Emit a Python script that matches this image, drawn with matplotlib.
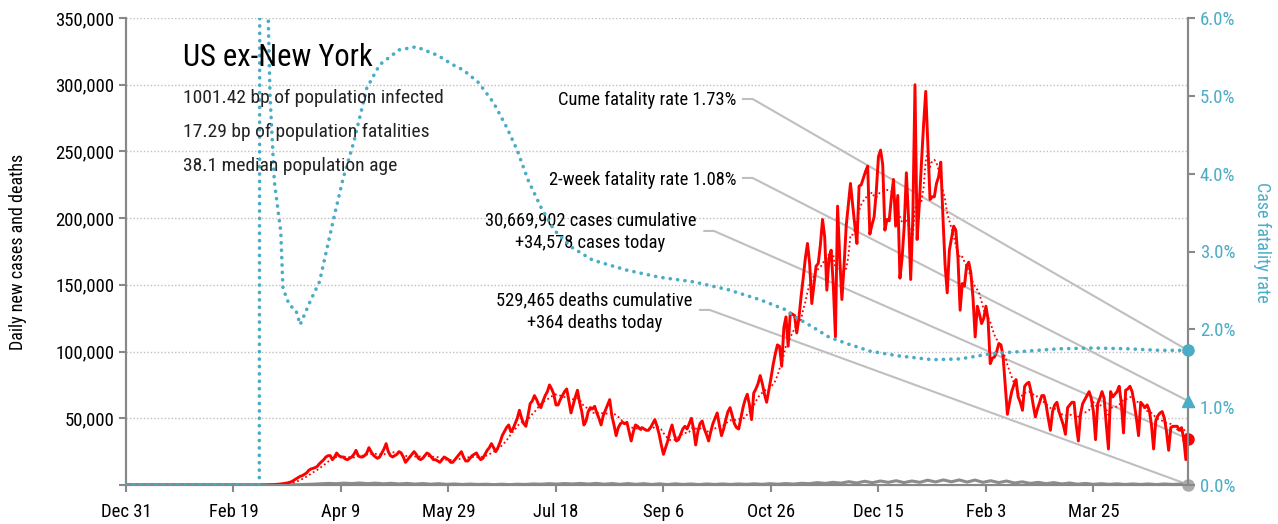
import numpy as np
import pandas as pd
import matplotlib
matplotlib.use('Agg')
import matplotlib.pyplot as plt
from matplotlib import font_manager

# narrow font if one is installed
names = {f.name for f in font_manager.fontManager.ttflist}
family = 'DejaVu Sans'
for cand in ['Liberation Sans Narrow', 'Roboto Condensed', 'Open Sans Condensed', 'Arial Narrow', 'Liberation Sans']:
    if cand in names:
        family = cand
        break
plt.rcParams['font.family'] = family

# ---- data (day 0 = Dec 31 2019) ----
tick_days = [0, 50, 100, 150, 200, 250, 300, 350, 400, 450]
tick_labels = ['Dec 31', 'Feb 19', 'Apr 9', 'May 29', 'Jul 18', 'Sep 6', 'Oct 26', 'Dec 15', 'Feb 3', 'Mar 25']

# daily new cases, thousands, from day 61 (Mar 1 2020), one row per week
cases_k = [
    0, 0, 0.1, 0.1, 0.1, 0.2, 0.2,
    0.3, 0.3, 0.5, 0.6, 0.8, 1.0, 1.3,
    1.5, 2.0, 2.5, 3.5, 4.5, 5.5, 6.5,
    7, 8, 9, 11, 12, 12.5, 13,
    14, 16, 17.5, 19, 21, 22, 22,
    19, 21, 24, 22, 21, 21, 19.5,
    19, 20, 21, 23, 26, 22, 21,
    21, 22, 24, 28, 25, 22.5, 21,
    20, 21, 24, 27, 31, 25, 22,
    21, 22, 23, 25, 24, 21, 17,
    19, 21, 23, 25, 23, 20, 19,
    20, 22, 24, 23, 21, 19, 19,
    18, 17, 19, 21, 20, 19, 17,
    17, 19, 21, 23, 25, 21, 18,
    18, 20, 22, 23, 24, 21, 19,
    20, 23, 26, 28, 31, 28, 25,
    28, 32, 37, 40, 43, 45, 40,
    42, 46, 50, 56, 50, 46, 44,
    52, 61, 63, 67, 64, 60, 58,
    63, 67, 70, 75, 72, 68, 60,
    60, 64, 67, 70, 72, 63, 54,
    60, 66, 71, 62, 55, 45, 48,
    55, 58, 57, 59, 54, 50, 45,
    52, 56, 60, 64, 52, 45, 37,
    43, 46, 47, 46, 47, 40, 33,
    40, 45, 44, 42, 43, 42, 41,
    41, 43, 46, 49, 44, 38, 30,
    23, 28, 33, 40, 45, 38, 33,
    34, 38, 42, 44, 42, 46, 50,
    42, 30, 40, 46, 48, 42, 38,
    33, 40, 46, 50, 54, 45, 37,
    42, 49, 55, 58, 52, 46, 43,
    42, 50, 58, 64, 68, 60, 49,
    69, 72, 76, 82, 76, 68, 62,
    71, 80, 90, 98, 105, 104, 89,
    118, 126, 104, 129, 128, 127, 114,
    125, 141, 155, 170, 181, 166, 136,
    150, 164, 166, 180, 199, 186, 146,
    170, 176, 150, 111, 209, 170, 139,
    164, 194, 210, 226, 210, 195, 181,
    224, 225, 230, 235, 239, 188, 195,
    201, 220, 246, 251, 240, 191, 199,
    198, 215, 229, 194, 217, 155, 170,
    194, 234, 200, 154, 200, 300, 184,
    210, 241, 270, 295, 254, 214, 216,
    216, 226, 231, 242, 201, 165, 144,
    176, 185, 194, 191, 170, 131, 151,
    149, 164, 167, 159, 140, 111, 134,
    128, 121, 125, 134, 124, 91, 95,
    96, 100, 106, 105, 96, 75, 53,
    62, 70, 75, 79, 66, 62, 56,
    74, 76, 77, 70, 60, 51, 57,
    62, 67, 67, 60, 50, 41, 55,
    60, 62, 55, 50, 45, 38, 58,
    60, 62, 62, 45, 33, 53, 61,
    64, 67, 70, 65, 55, 34, 61,
    65, 70, 65, 45, 27, 70, 66,
    68, 70, 74, 61, 39, 71, 72,
    74, 70, 61, 50, 37, 62, 60,
    58, 60, 56, 45, 27, 48, 52,
    54, 55, 50, 40, 26, 43, 44,
    44, 44, 41, 43, 35, 19, 34.578,
]

# daily deaths, thousands, every half week from day 61
deaths_k = [
    0, 0, 0, 0.05, 0.1, 0.2, 0.4, 0.6,
    0.9, 1.2, 1.0, 1.4, 1.1, 1.5, 1.0, 1.4,
    0.9, 1.3, 0.8, 1.2, 0.7, 1.1, 0.6, 1.0, 0.5,
    0.8, 0.4, 0.7, 0.4, 0.6, 0.3, 0.6, 0.3,
    0.6, 0.4, 0.8, 0.6, 1.0, 0.7, 1.1, 0.8, 1.2,
    0.7, 1.2, 0.6, 1.1, 0.5, 1.1, 0.5, 1.0,
    0.4, 0.9, 0.3, 0.9, 0.4, 0.8, 0.3, 0.8,
    0.4, 0.8, 0.4, 0.8, 0.5, 0.9, 0.5, 1.0, 0.6,
    1.1, 0.7, 1.3, 1.0, 1.8, 1.2, 2.0, 1.4,
    2.5, 1.5, 2.8, 1.7, 3.0, 2.0, 3.2, 1.8, 3.0,
    2.0, 3.6, 2.3, 3.8, 2.4, 3.8, 2.2, 3.7,
    2.0, 3.2, 1.8, 3.0, 1.5, 2.4, 1.2, 2.0,
    1.0, 1.8, 0.8, 1.5, 0.6, 1.2, 0.5, 1.0, 0.5,
    0.9, 0.4, 0.8, 0.4, 0.8, 0.3, 0.8, 0.4,
    0.7, 0.364,
]

# cumulative case fatality rate, %
cfr_days = [0, 62, 63, 64, 65, 66, 67, 69, 72, 73, 76, 79, 81, 86, 90, 97, 101, 106, 112,
            118, 127, 135, 145, 152, 157, 164, 171, 177, 182, 187, 193, 199, 207, 217, 233,
            248, 264, 280, 295, 307, 310, 320, 327, 335, 346, 359, 375, 388, 403, 419, 434,
            450, 466, 481, 494]
cfr_pct = [0, 0, 30, 15, 9, 6.2, 5.0, 3.9, 3.25, 2.53, 2.31, 2.25, 2.06, 2.38, 2.61, 3.47, 3.94,
           4.41, 5.10, 5.40, 5.59, 5.63, 5.52, 5.40, 5.33, 5.17, 4.91, 4.60, 4.30, 3.92, 3.57,
           3.28, 3.06, 2.89, 2.76, 2.67, 2.61, 2.51, 2.38, 2.25, 2.18, 2.02, 1.90, 1.82, 1.72,
           1.66, 1.61, 1.62, 1.69, 1.72, 1.75, 1.76, 1.75, 1.73, 1.73]

cume_cfr = 1.73
two_week_cfr = 1.08
cases_today = 34578
deaths_today = 364

title = 'US ex-New York'
stats = ['1001.42 bp of population infected',
         '17.29 bp of population fatalities',
         '38.1 median population age']

# ---- series ----
cases = pd.Series([0.0] * 61 + cases_k) * 1000
days = np.arange(len(cases))
avg7 = cases.rolling(7, min_periods=1).mean()
death_x = np.concatenate([[0], np.linspace(61, 494, len(deaths_k))])
death_y = np.concatenate([[0], deaths_k]) * 1000
end_day = days[-1]

RED = '#ff0000'
TEAL = '#4bacc6'
GRAY = '#8c8c8c'
LINE = '#bfbfbf'

fig = plt.figure(figsize=(12.78, 5.24), dpi=100)
ax = fig.add_axes([126 / 1278, 1 - 485 / 524, (1188 - 126) / 1278, (485 - 18) / 524])
ax2 = ax.twinx()

ax.set_xlim(0, end_day)
ax.set_ylim(0, 350000)
ax2.set_ylim(0, 6)

for v in range(50000, 350001, 50000):
    ax.axhline(v, color='#c0c0c0', lw=1, ls=(0, (1, 1.5)), zorder=0)

ax.plot(death_x, death_y, color=GRAY, lw=2.2, zorder=3)
ax.plot(days, cases, color=RED, lw=2.1, zorder=4)
ax.plot(days, avg7, color=RED, lw=1.3, ls=(0, (1, 1.5)), zorder=4)
ax2.plot(cfr_days, cfr_pct, color=TEAL, lw=2.6, ls=(0, (0.05, 2.0)),
         dash_capstyle='round', zorder=5)

# end markers
ax.plot(end_day, cases_today, 'o', color=RED, ms=8, clip_on=False, zorder=6)
ax.plot(end_day, deaths_today, 'o', color='#aaaaaa', ms=8, clip_on=False, zorder=6)
ax2.plot(end_day, cume_cfr, 'o', color=TEAL, ms=8, clip_on=False, zorder=6)
ax2.plot(end_day, two_week_cfr, '^', color=TEAL, ms=9, clip_on=False, zorder=6)

# axes styling
ax.spines['top'].set_visible(False)
ax2.spines['top'].set_visible(False)
for a in (ax, ax2):
    for sp in ['left', 'right', 'bottom']:
        a.spines[sp].set_color('#888888')
        a.spines[sp].set_linewidth(1.5)

ax.set_xticks(tick_days)
ax.set_xticklabels(tick_labels)
ax.set_yticks(range(0, 350001, 50000))
ax.set_yticklabels([''] + [f'{v:,}' for v in range(50000, 350001, 50000)])
ax.tick_params(axis='both', colors='#888888', labelcolor='black', labelsize=13.5, length=5, width=1.5)
ax.tick_params(axis='x', pad=8)
ax2.set_yticks(range(0, 7))
ax2.set_yticklabels([f'{v:.1f}%' for v in range(0, 7)])
ax2.tick_params(axis='y', colors='#888888', labelcolor=TEAL, labelsize=13.5, length=5, width=1.5)

ax.set_ylabel('Daily new cases and deaths', fontsize=13)
ax.yaxis.set_label_coords((27 - 126) / 1062, 0.5)
ax2.set_ylabel('Case fatality rate', fontsize=13, color=TEAL, rotation=270, va='center')
ax2.yaxis.set_label_coords((1262 - 126) / 1062, 0.52)

# title block
fig.text(183 / 1278, 1 - 57 / 524, title, fontsize=22, va='center', ha='left')
for i, s in enumerate(stats):
    fig.text(183 / 1278, 1 - (98 + 34 * i) / 524, s, fontsize=14, va='center', ha='left', color='#222222')

# annotations with leader lines
def to_left(day, pct):
    return ax.transData.inverted().transform(ax2.transData.transform((day, pct)))[1]

notes = [
    ('Cume fatality rate 1.73%', 284, 288600, 'right', 287, 289300, to_left(end_day, cume_cfr)),
    ('2-week fatality rate 1.08%', 284, 228600, 'right', 287, 230100, to_left(end_day, two_week_cfr)),
    ('30,669,902 cases cumulative\n+34,578 cases today', 216, 190000, 'center', 269, 190400, cases_today),
    ('529,465 deaths cumulative\n+364 deaths today', 218, 130000, 'center', 267, 131200, deaths_today),
]
for text, tx, ty, ha, lx, ly, end_y in notes:
    ax.text(tx, ty, text, ha=ha, va='center', fontsize=13.3, linespacing=1.3, zorder=7)
    ax.plot([lx, lx + 4.5, end_day], [ly, ly, end_y], color=LINE, lw=1.5, clip_on=False, zorder=2)

fig.savefig('out.png', dpi=100)
